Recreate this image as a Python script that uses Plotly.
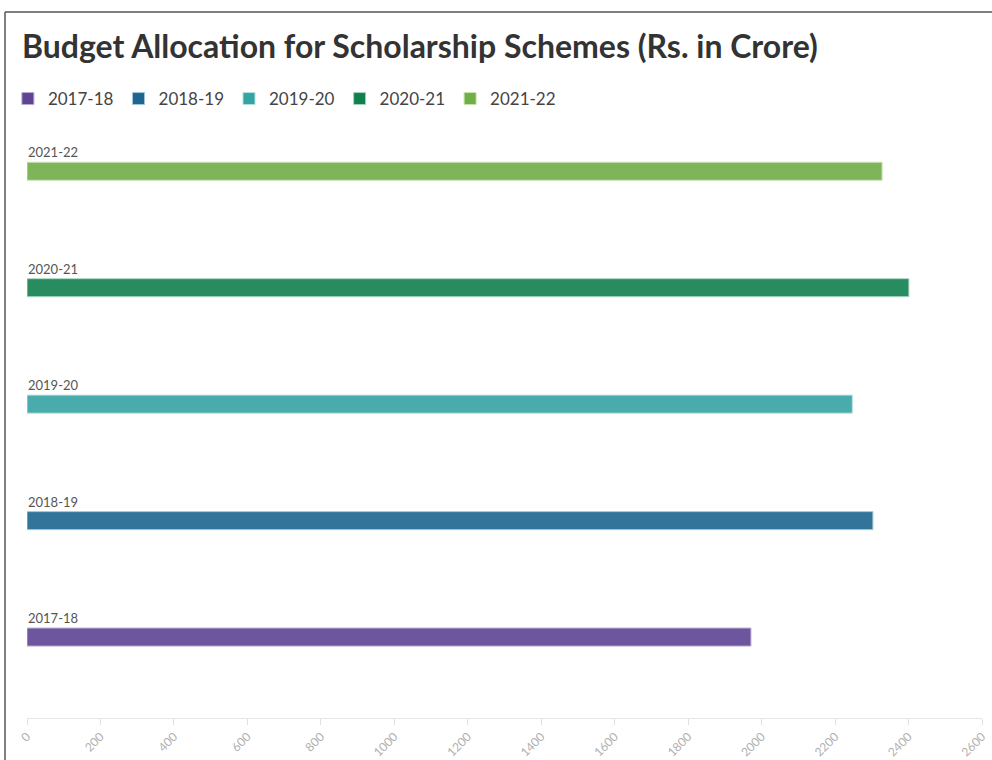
import plotly.graph_objects as go

years = ["2017-18", "2018-19", "2019-20", "2020-21", "2021-22"]
allocations = [1971, 2303, 2247, 2401, 2328]
colors = ["#5f4494", "#1e6690", "#36a3a3", "#11804f", "#70ae46"]
edge_colors = ["#b7a9d0", "#a3c4da", "#b4e0e0", "#a3d4bd", "#c8e2b4"]
x_ticks = list(range(0, 2601, 200))

fig = go.Figure()
for i, (yr, val, c, ec) in enumerate(zip(years, allocations, colors, edge_colors)):
    fig.add_trace(go.Bar(
        x=[val], y=[i], name=yr, orientation="h",
        marker=dict(color=c, opacity=0.9, line=dict(color=ec, width=1)),
        width=0.155, hoverinfo="x+name",
    ))
    fig.add_annotation(x=0, y=i, xref="x", yref="y", text=yr, showarrow=False,
                       xanchor="left", yanchor="bottom", yshift=9, xshift=-1,
                       font=dict(family="Lato, sans-serif", size=13, color="#555"))

fig.update_layout(
    width=992, height=760,
    margin=dict(l=27, r=10, t=113, b=42, autoexpand=False),
    paper_bgcolor="white", plot_bgcolor="white",
    barmode="overlay",
    title=dict(text="<b>Budget Allocation for Scholarship Schemes (Rs. in Crore)</b>",
               x=22/992, xanchor="left", y=1-47/760, yanchor="middle",
               font=dict(family="Lato, sans-serif", size=32, color="#333")),
    legend=dict(orientation="h", x=-0.02, xanchor="left", y=1+(113-99)/605, yanchor="middle",
                font=dict(family="Lato, sans-serif", size=17, color="#444"),
                itemwidth=30, traceorder="normal"),
    xaxis=dict(range=[0, 2600], tickvals=x_ticks, ticktext=[str(v) for v in x_ticks],
               showgrid=False, zeroline=False, showline=True, linecolor="#e6e6e6", linewidth=1,
               ticks="outside", ticklen=6, tickcolor="#e0e0e0", tickangle=-45, automargin=False,
               tickfont=dict(family="Lato, sans-serif", size=12, color="#b0b0b0"), fixedrange=True),
    yaxis=dict(range=[-0.695, 4.5], showticklabels=False, showgrid=False, zeroline=False,
               showline=False, ticks="", fixedrange=True, automargin=False),
    shapes=[
        dict(type="line", xref="paper", yref="paper", x0=(5-27)/955, x1=(5-27)/955,
             y0=1+(113-12)/605, y1=-0.1, line=dict(color="#555", width=1.5)),
        dict(type="line", xref="paper", yref="paper", x0=(5-27)/955, x1=1.02,
             y0=1+(113-12)/605, y1=1+(113-12)/605, line=dict(color="#555", width=1.5)),
    ],
)

fig.write_html("out.html")
